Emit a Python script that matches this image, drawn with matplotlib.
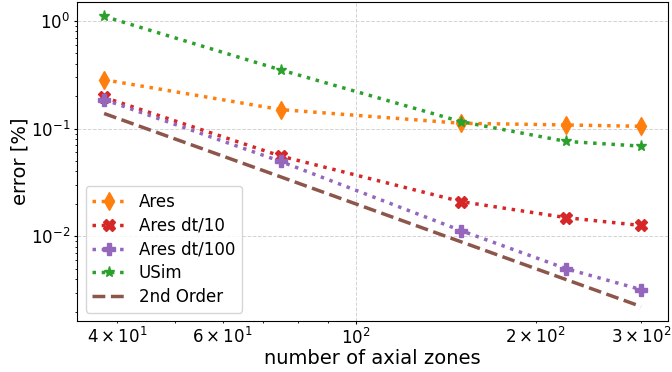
import matplotlib.pyplot as plt

# Anzahl axialer Zonen
zones = [38, 75, 150, 225, 300]

# Fehler in Prozent
ares = [0.284, 0.150, 0.112, 0.108, 0.105]
ares_dt10 = [0.195, 0.0555, 0.0210, 0.0149, 0.0126]
ares_dt100 = [0.186, 0.0495, 0.0113, 0.0050, 0.0032]
usim = [1.10, 0.350, 0.116, 0.076, 0.0687]
second_order = [0.138, 0.0356, 0.0089, 0.00396, 0.00223]

fig, ax = plt.subplots(figsize=(6.72, 3.72), dpi=100)
fig.subplots_adjust(left=0.115, right=0.994, top=0.995, bottom=0.137)

ax.plot(zones, ares, ":", marker="d", color="tab:orange", lw=2.5, ms=9, label="Ares")
ax.plot(zones, ares_dt10, ":", marker="X", color="tab:red", lw=2.5, ms=8, label="Ares dt/10")
ax.plot(zones, ares_dt100, ":", marker="P", color="tab:purple", lw=2.5, ms=8, label="Ares dt/100")
ax.plot(zones, usim, ":", marker="*", color="tab:green", lw=2.5, ms=8, label="USim")
ax.plot(zones, second_order, "--", color="tab:brown", lw=2.5, label="2nd Order")

ax.set_xscale("log")
ax.set_yscale("log")
ax.set_xlabel("number of axial zones", fontsize=14, labelpad=1)
ax.set_ylabel("error [%]", fontsize=14, labelpad=1)
ax.tick_params(which="both", labelsize=12, pad=2.5)
ax.tick_params(which="major", length=2.5)
ax.tick_params(which="minor", length=1.5)
ax.grid(ls="--", color="lightgray", lw=0.7)
ax.legend(loc="lower left", fontsize=12, labelspacing=0.35)

fig.savefig("out.png")
